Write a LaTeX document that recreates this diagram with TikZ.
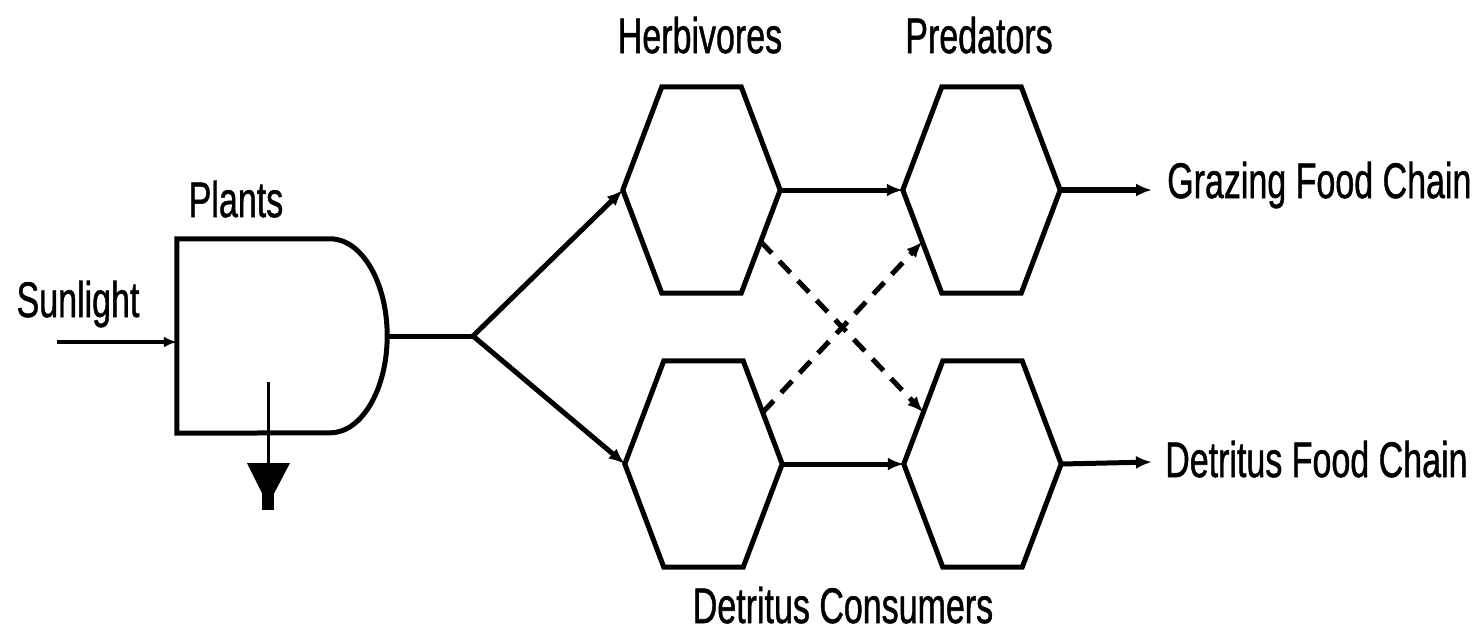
\documentclass[tikz,border=0pt]{standalone}
\usepackage{fontspec}
\setmainfont{Liberation Sans}
\newfontfamily\lblfont[FakeBold=1.2]{Liberation Sans}
\usepackage{graphicx}
\usetikzlibrary{arrows.meta,calc}
\newcommand{\sqz}[1]{\scalebox{0.68}[1]{#1}}
\newcommand{\hexdraw}[1]{\draw[outl] (#1.west) -- ([xshift=39pt]#1.north west) -- ([xshift=-39pt]#1.north east) -- (#1.east) -- ([xshift=-39pt]#1.south east) -- ([xshift=39pt]#1.south west) -- cycle;}
\begin{document}
\begin{tikzpicture}[x=1pt,y=-1pt,
  hexbox/.style={draw=none, inner sep=0, minimum width=157pt, minimum height=206pt},
  plantbox/.style={draw=none, inner sep=0, minimum width=210pt, minimum height=194pt},
  outl/.style={line width=5pt, line join=miter},
  flow/.style={line width=5pt, -{Latex[length=16pt,width=13pt]}},
  dflow/.style={flow, dash pattern=on 16pt off 11pt},
  lbl/.style={inner sep=0, font=\lblfont\fontsize{50}{60}\selectfont}]
\useasboundingbox (0,0) rectangle (1480,633);
% nodes
\node[plantbox] (plant) at (282,336) {};
\node[hexbox] (herb) at (701.5,190) {};
\node[hexbox] (detc) at (703.5,464) {};
\node[hexbox] (pred) at (981.5,190) {};
\node[hexbox] (decq) at (982.5,464) {};
% shapes
\draw[outl] (plant.north west) -- ([xshift=-57pt]plant.north east)
  arc[start angle=-90, end angle=90, x radius=57, y radius=97]
  -- (plant.south west) -- cycle;
\hexdraw{herb}
\hexdraw{detc}
\hexdraw{pred}
\hexdraw{decq}
% labels
\node[lbl, anchor=base] (lplant) at (236,217) {\sqz{Plants}};
\node[lbl, anchor=base] (lsun) at (78,317) {\sqz{Sunlight}};
\node[lbl, anchor=base] (lherb) at (700,53) {\sqz{Herbivores}};
\node[lbl, anchor=base] (lpred) at (979,53) {\sqz{Predators}};
\node[lbl, anchor=base] (ldetc) at (843,623) {\sqz{Detritus Consumers}};
\node[lbl, anchor=base west] (lgfc) at (1167,198) {\sqz{Grazing Food Chain}};
\node[lbl, anchor=base west] (ldfc) at (1165,477) {\sqz{Detritus Food Chain}};
% sunlight
\coordinate (sunstart) at (57,342);
\draw[line width=3.5pt, -{Latex[length=13pt,width=11pt]}] (sunstart) -- (sunstart -| plant.west);
% ground
\coordinate (gtop) at (268,382);
\coordinate (gtip) at (268,505);
\draw[line width=3pt] (gtop) -- (268,470);
\fill (247,463) -- (290,463) -- (gtip) -- cycle;
\draw[line width=12pt] (268,488) -- (268,510);
% branch
\coordinate (br) at (473,336);
\draw[line width=5pt] (plant.east) -- (br);
\draw[flow] (br) -- (herb.west);
\draw[flow] (br) -- (detc.west);
% horizontal
\draw[flow] (herb.east) -- (pred.west);
\draw[flow] (detc.east) -- (decq.west);
% dashed crossing
\draw[dflow] ($(herb.east)!0.5!([xshift=-39pt]herb.south east)$) -- ($(decq.west)!0.5!([xshift=39pt]decq.north west)$);
\draw[dflow] ($(detc.east)!0.5!([xshift=-39pt]detc.north east)$) -- ($(pred.west)!0.5!([xshift=39pt]pred.south west)$);
% outputs
\coordinate (gout) at (1152,190);
\coordinate (dout) at (1152,462);
\draw[line width=6.5pt, -{Latex[length=16pt,width=13pt]}] (pred.east) -- (gout);
\draw[line width=5pt, -{Latex[length=16pt,width=13pt]}] (decq.east) -- (dout);
\end{tikzpicture}
\end{document}
